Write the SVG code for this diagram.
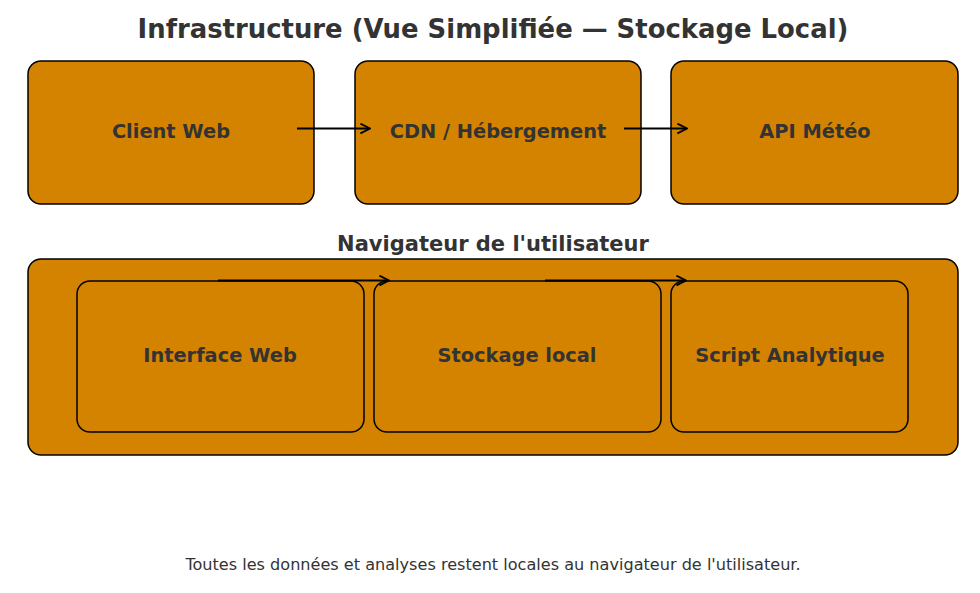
<svg xmlns="http://www.w3.org/2000/svg" width="980" height="593" viewBox="0 0 980 593">
<defs>
<style>
.box{fill:#D48300;stroke:#000;stroke-width:1.5}
.lbl{font-family:"DejaVu Sans",sans-serif;font-weight:bold;font-size:19.4px;fill:#333;text-anchor:middle}
.sub{font-family:"DejaVu Sans",sans-serif;font-weight:bold;font-size:21px;fill:#333;text-anchor:middle}
.title{font-family:"DejaVu Sans",sans-serif;font-weight:bold;font-size:25.9px;fill:#333;text-anchor:middle}
.foot{font-family:"DejaVu Sans",sans-serif;font-size:16.1px;fill:#333;text-anchor:middle}
.edge{stroke:#000;stroke-width:2;fill:none;marker-end:url(#ah)}
</style>
<marker id="ah" viewBox="0 0 10 10" refX="9" refY="5" markerWidth="6" markerHeight="6" orient="auto" markerUnits="strokeWidth">
<path d="M1,1 L9,5 L1,9" fill="none" stroke="#000" stroke-width="1.6"/>
</marker>
</defs>
<rect width="980" height="593" fill="#fff"/>
<text class="title" x="493" y="38">Infrastructure (Vue Simplifiée — Stockage Local)</text>
<g id="client-web"><rect class="box" x="28" y="61" width="286" height="143" rx="13"/><text class="lbl" x="171" y="138">Client Web</text></g>
<g id="cdn"><rect class="box" x="355" y="61" width="286" height="143" rx="13"/><text class="lbl" x="498" y="138">CDN / Hébergement</text></g>
<g id="api-meteo"><rect class="box" x="671" y="61" width="287" height="143" rx="13"/><text class="lbl" x="815" y="138">API Météo</text></g>
<g id="navigateur"><rect class="box" x="28" y="259" width="930" height="196" rx="13"/><text class="sub" x="493" y="251">Navigateur de l'utilisateur</text></g>
<g id="interface-web"><rect class="box" x="77" y="281" width="287" height="151" rx="13"/><text class="lbl" x="220" y="362">Interface Web</text></g>
<g id="stockage-local"><rect class="box" x="374" y="281" width="287" height="151" rx="13"/><text class="lbl" x="517" y="362">Stockage local</text></g>
<g id="script-analytique"><rect class="box" x="671" y="281" width="237" height="151" rx="13"/><text class="lbl" x="790" y="362">Script Analytique</text></g>
<g id="connectors">
<line class="edge" x1="297" y1="128.5" x2="370" y2="128.5"/>
<line class="edge" x1="624" y1="128.5" x2="687" y2="128.5"/>
<line class="edge" x1="218" y1="280.5" x2="389" y2="280.5"/>
<line class="edge" x1="545" y1="280.5" x2="686" y2="280.5"/>
</g>
<text class="foot" x="493" y="570">Toutes les données et analyses restent locales au navigateur de l'utilisateur.</text>
</svg>
